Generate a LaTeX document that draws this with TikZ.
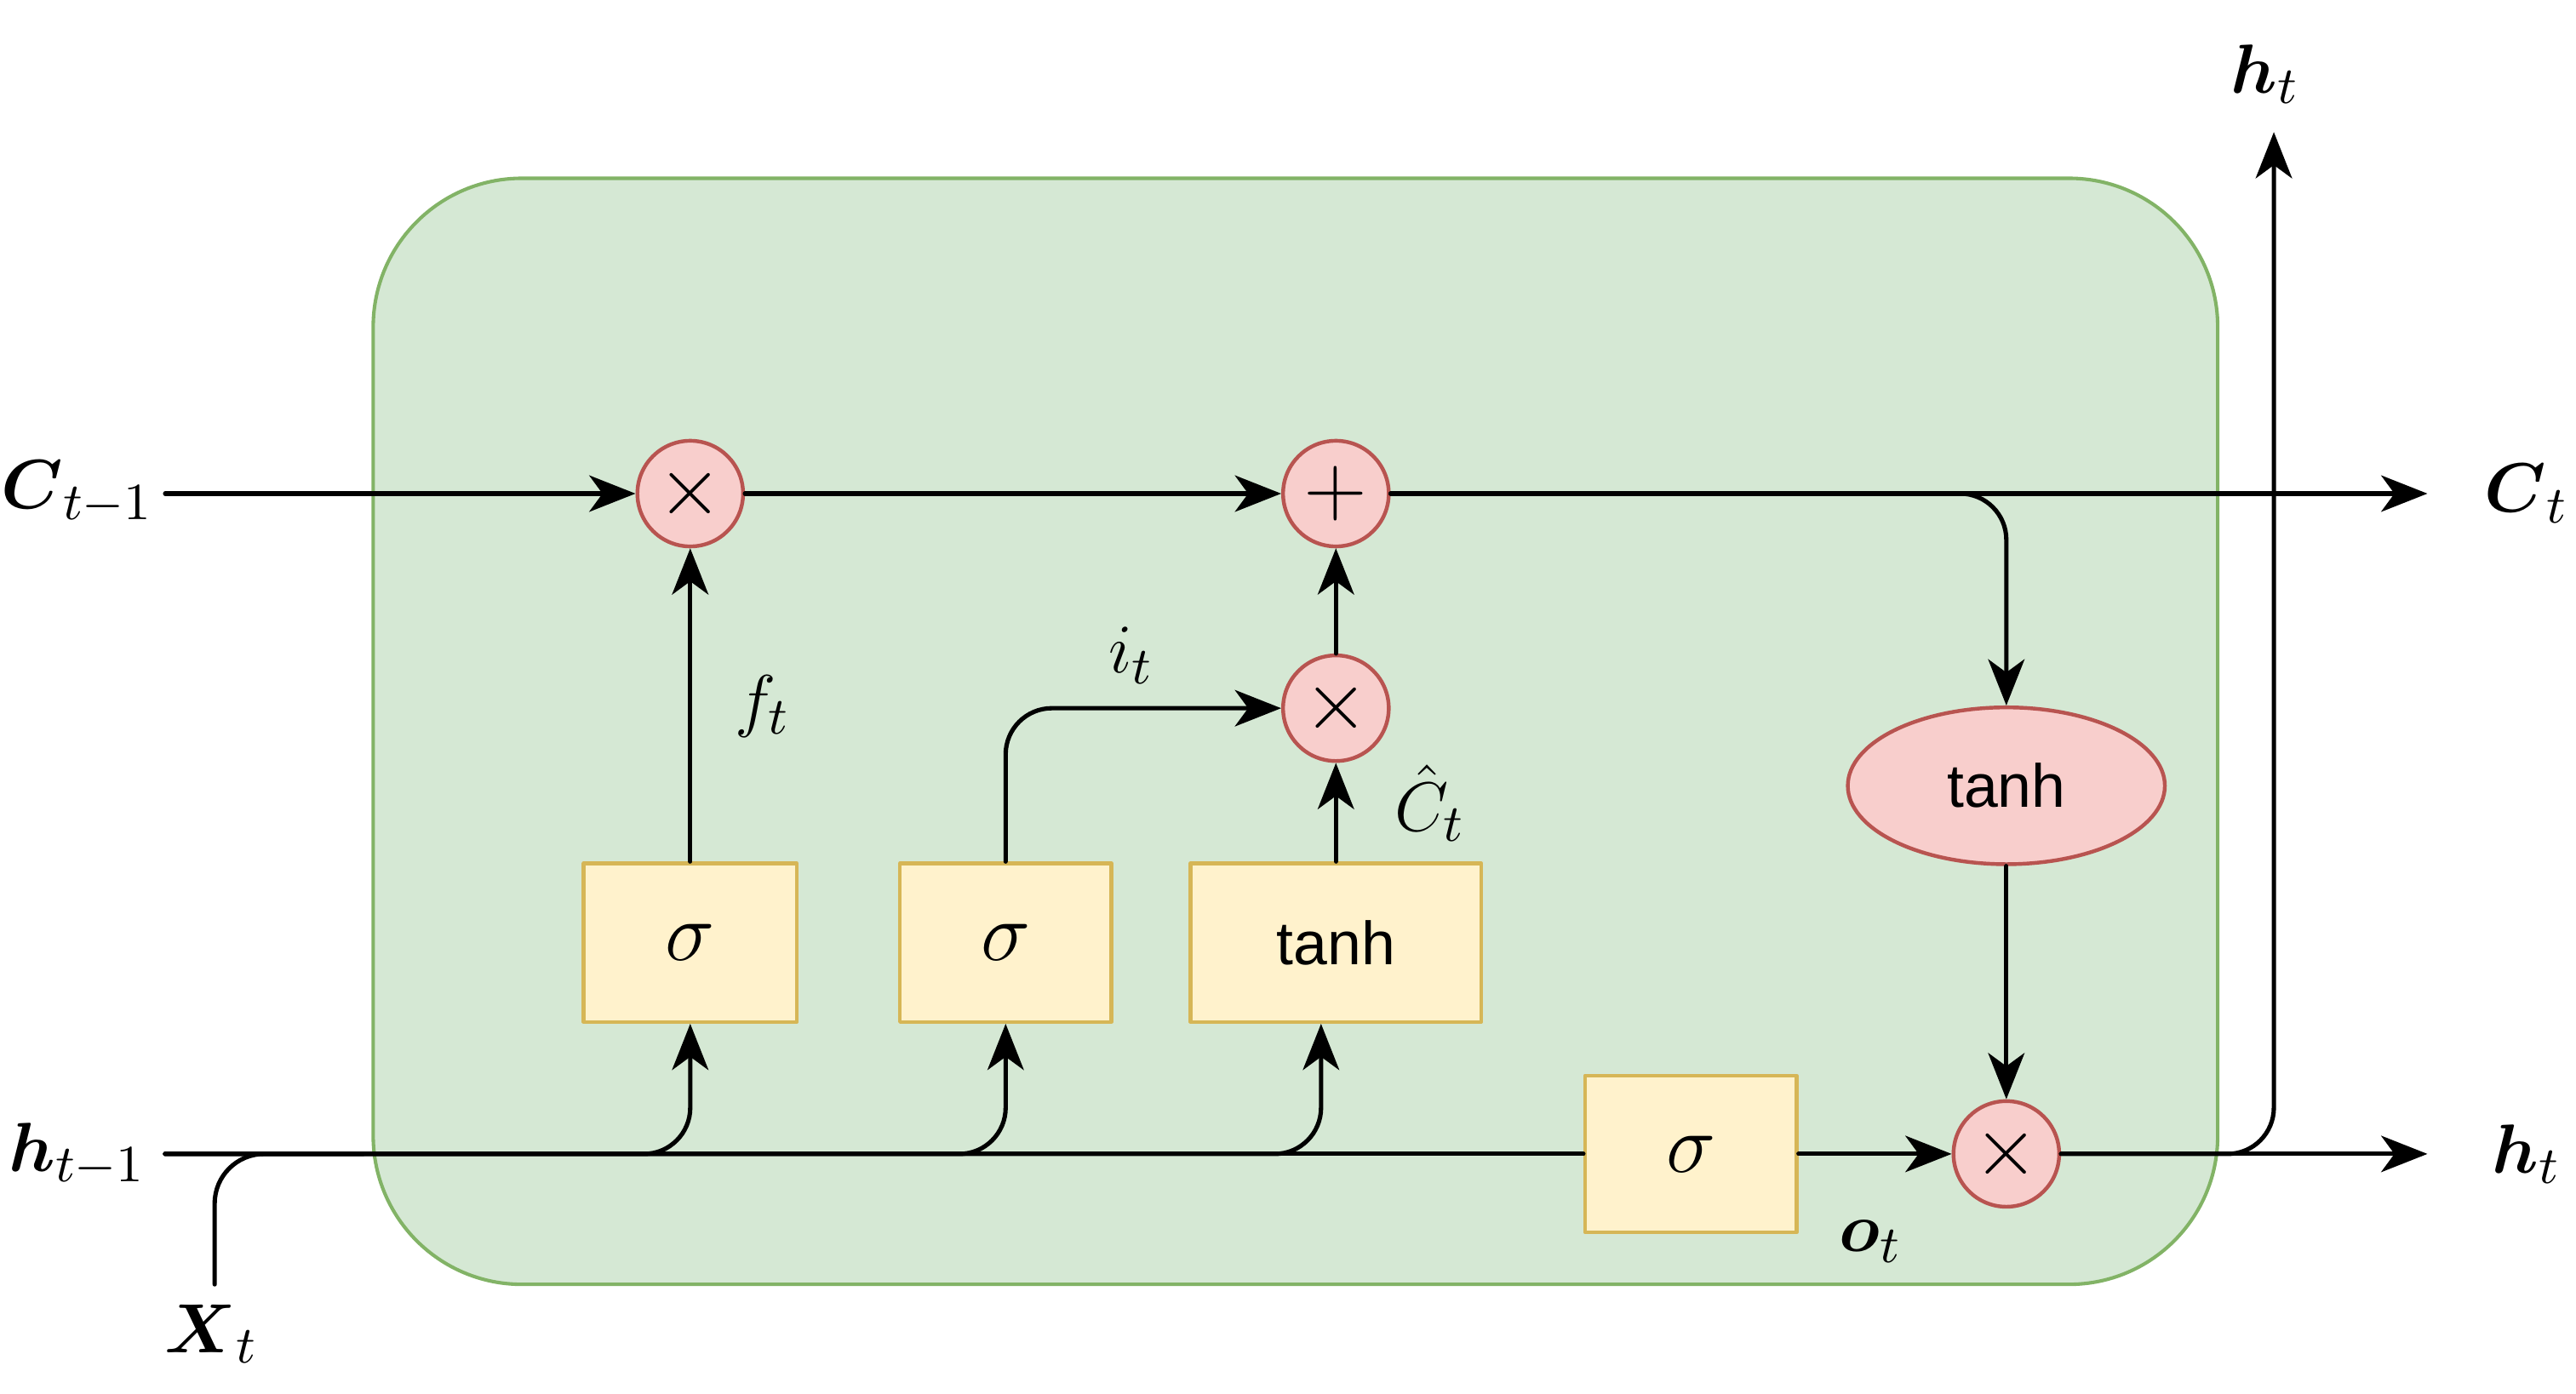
\documentclass[tikz,border=0pt]{standalone}
\usepackage{amsmath}
\usepackage{fontspec}
\newfontfamily\tanhfont{Liberation Sans}
\usetikzlibrary{arrows.meta,shapes.geometric}
\definecolor{cellfill}{HTML}{D5E8D4}
\definecolor{celledge}{HTML}{82B366}
\definecolor{gatefill}{HTML}{FFF2CC}
\definecolor{gateedge}{HTML}{D6B656}
\definecolor{opfill}{HTML}{F8CECC}
\definecolor{opedge}{HTML}{B85450}

\begin{document}
\begin{tikzpicture}[line join=round, line cap=round, >={Stealth[length=2.8mm,width=2.2mm,inset=0.8mm]}, line width=0.75pt,
	cell/.style={draw=celledge, fill=cellfill, line width=0.6pt, rounded corners=0.9cm},
	gate/.style={draw=gateedge, fill=gatefill, line width=0.65pt, minimum height=0.96cm, inner sep=0pt, font=\fontsize{14}{14}\selectfont},
	op/.style={circle, draw=opedge, fill=opfill, line width=0.65pt, minimum size=0.64cm, inner sep=0pt, font=\fontsize{15}{15}\selectfont},
	lab/.style={font=\fontsize{12.5}{12.5}\selectfont},
	wire/.style={->, rounded corners=0.28cm}]
			\useasboundingbox (0,0) rectangle (15.6,8.444);
			\draw[cell] (2.26,0.664) rectangle (13.43,7.364);
			% operations and gates
			\node[op] (fmul) at (4.18,5.454) {$\times$};
			\node[op] (add) at (8.09,5.454) {$+$};
			\node[op] (imul) at (8.09,4.154) {$\times$};
			\node[op] (omul) at (12.15,1.454) {$\times$};
			\node[gate, minimum width=1.29cm] (fsig) at (4.18,2.734) {$\sigma$};
			\node[gate, minimum width=1.28cm] (isig) at (6.09,2.734) {$\sigma$};
			\node[gate, minimum width=1.76cm] (cand) at (8.09,2.734) {\tanhfont\fontsize{10.5}{10.5}\selectfont tanh};
			\node[gate, minimum width=1.28cm, minimum height=0.95cm] (osig) at (10.24,1.454) {$\sigma$};
			\node[ellipse, draw=opedge, fill=opfill, line width=0.65pt, minimum width=1.92cm, minimum height=0.95cm, inner sep=0pt] (ctanh) at (12.15,3.684) {\tanhfont\fontsize{10.5}{10.5}\selectfont tanh};
			% free ends
			\coordinate (cin) at (1.0,5.454);
			\coordinate (cout) at (14.70,5.454);
			\coordinate (hin) at (1.0,1.454);
			\coordinate (hout) at (14.70,1.454);
			\coordinate (hup) at (13.77,7.644);
			\coordinate (xin) at (1.30,0.664);
			\coordinate (xjoin) at (2.2,1.454);
			% labels
			\node[lab] (cprev) at (0.47,5.46) {$\boldsymbol{C}_{t-1}$};
			\node[lab] (hprev) at (0.47,1.45) {$\boldsymbol{h}_{t-1}$};
			\node[lab] (cnext) at (15.30,5.454) {$\boldsymbol{C}_t$};
			\node[lab] (hnext) at (15.30,1.454) {$\boldsymbol{h}_t$};
			\node[lab] (htop) at (13.72,7.994) {$\boldsymbol{h}_t$};
			\node[lab] (xlab) at (1.28,0.364) {$\boldsymbol{X}_t$};
			\node[lab] (flab) at (4.62,4.164) {$f_t$};
			\node[lab] (ilab) at (6.85,4.474) {$i_t$};
			\node[lab, inner sep=1pt] (clab) at (8.66,3.58) {$\hat{C}_t$};
			\node[lab] (olab) at (11.33,0.924) {$\boldsymbol{o}_t$};
			% cell state
			\draw[->] (cin) -- (fmul);
			\draw[->] (fmul) -- (add);
			\draw[->] (add.east) -- (cout);
			\draw[wire] (add.east) -| (ctanh.north);
			\draw[->] (ctanh) -- (omul);
			% gates
			\draw[->] (fsig) -- (fmul);
			\draw[wire] (isig.north) |- (imul.west);
			\draw[->] (cand) -- (imul);
			\draw[->] (imul) -- (add);
			% hidden state
			\draw (hin) -- (osig.west);
			\draw[wire] (hin) -| (fsig.south);
			\draw[wire] (hin) -| (isig.south);
			\draw[wire] (hin) -| ([xshift=-0.9mm]cand.south);
			\draw[rounded corners=0.3cm] (xin) |- (xjoin);
			\draw[->] (osig) -- (omul);
			\draw[->] (omul.east) -- (hout);
			\draw[wire] (omul.east) -| (hup);
		\end{tikzpicture}
\end{document}
